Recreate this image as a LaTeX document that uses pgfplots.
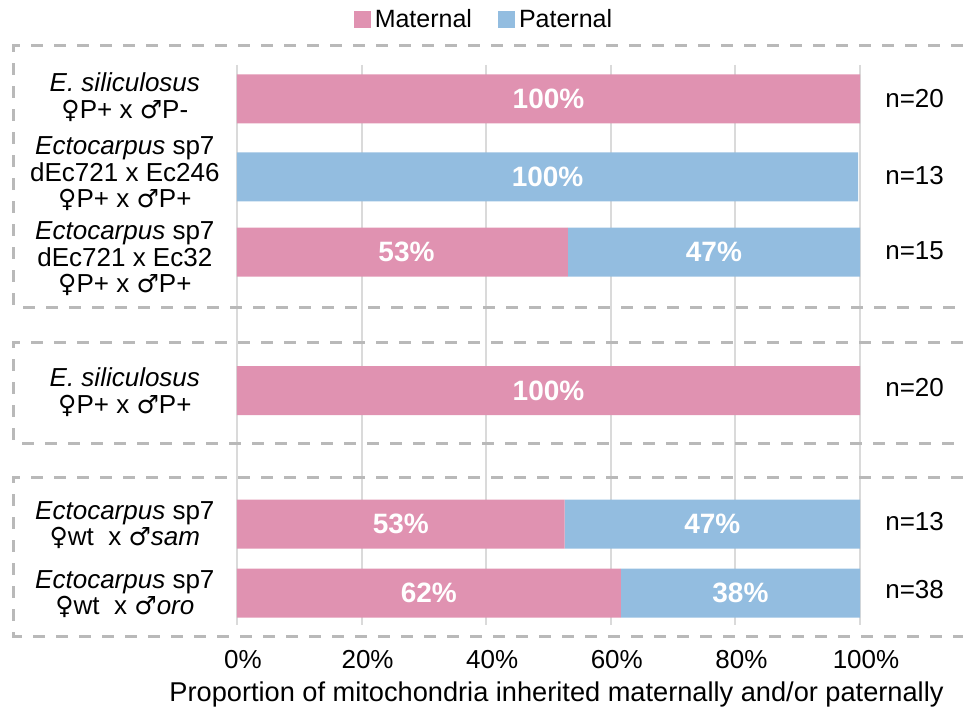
\documentclass[border=0pt]{standalone}
\usepackage{pgfplots}
\pgfplotsset{compat=1.18}
\usepackage{fontspec}
\setmainfont{Liberation Sans}
\newfontfamily\symf{DejaVu Sans}
\definecolor{mat}{RGB}{224,146,177}
\definecolor{pat}{RGB}{147,189,224}
\definecolor{dashg}{RGB}{185,185,185}
\definecolor{gridg}{RGB}{218,218,218}
\newcommand{\myfs}{\fontsize{13}{13.3}\selectfont}
\newcommand{\mybf}{\fontsize{14}{16}\selectfont\bfseries}
\newcommand{\fem}{{\symf\fontsize{12.5}{13}\selectfont ♀}}
\newcommand{\mal}{{\symf\fontsize{12.5}{13}\selectfont ♂}}
\begin{document}
\begin{tikzpicture}
\begin{axis}[
  scale only axis, width=311.5pt, height=280pt,
  xmin=0, xmax=100, ymin=65, ymax=625, y dir=reverse,
  axis line style={draw=none},
  major tick length=0pt,
  ytick=\empty,
  xtick={0,20,40,60,80,100},
  xticklabel={\pgfmathprintnumber{\tick}\%},
  /pgf/number format/assume math mode=true,
  xticklabel style={font=\myfs, xshift=3pt, yshift=-9pt},
  xmajorgrids, grid style={gridg, line width=1pt},
  xlabel={Proportion of mitochondria inherited maternally and/or paternally},
  xlabel style={font=\fontsize{13.6}{15}\selectfont, xshift=4pt, yshift=0pt},
  xbar stacked, bar width=49,
  clip=false,
  legend style={at={(0.398,1.080)}, anchor=center, draw=none, fill=none,
    legend columns=2, font=\fontsize{12.5}{14}\selectfont,
    /tikz/every even column/.append style={column sep=11pt}},
  legend image code/.code={\fill[#1] (0pt,-4pt) rectangle (8.5pt,4.5pt);},
]
\addplot[fill=mat, draw=none] coordinates {(100,99) (0,177) (53.1,252) (100,390.5) (52.6,524) (61.6,593)};
\addlegendentry{Maternal}
\addplot[fill=pat, draw=none] coordinates {(0,99) (99.7,177) (46.9,252) (0,390.5) (47.4,524) (38.4,593)};
\addlegendentry{Paternal}

\draw[dashg, line width=1.5pt, dash pattern=on 6pt off 5.5pt]
  (axis cs:116.5,46) -- (axis cs:-35.8,46) -- (axis cs:-35.8,307) -- (axis cs:116.5,307);
\draw[dashg, line width=1.5pt, dash pattern=on 6pt off 5.5pt]
  (axis cs:116.5,342) -- (axis cs:-35.8,342) -- (axis cs:-35.8,443) -- (axis cs:116.5,443);
\draw[dashg, line width=1.5pt, dash pattern=on 6pt off 5.5pt]
  (axis cs:116.5,477) -- (axis cs:-35.8,477) -- (axis cs:-35.8,636) -- (axis cs:116.5,636);

\coordinate (t1) at (axis cs:50,99);
\coordinate (t2) at (axis cs:49.85,177);
\coordinate (t3) at (axis cs:27.2,252);
\coordinate (t4) at (axis cs:76.55,252);
\coordinate (t5) at (axis cs:50,390.5);
\coordinate (t6) at (axis cs:26.3,524);
\coordinate (t7) at (axis cs:76.3,524);
\coordinate (t8) at (axis cs:30.8,593);
\coordinate (t9) at (axis cs:80.8,593);

\node[align=center, font=\myfs, inner sep=0pt] at (axis cs:-18,97) {\textit{E. siliculosus}\\\fem P+ x \mal P-};
\node[align=center, font=\myfs, inner sep=0pt] at (axis cs:-18,174) {\textit{Ectocarpus} sp7\\dEc721 x Ec246\\\fem P+ x \mal P+};
\node[align=center, font=\myfs, inner sep=0pt] at (axis cs:-18,259) {\textit{Ectocarpus} sp7\\dEc721 x Ec32\\\fem P+ x \mal P+};
\node[align=center, font=\myfs, inner sep=0pt] at (axis cs:-18,392) {\textit{E. siliculosus}\\\fem P+ x \mal P+};
\node[align=center, font=\myfs, inner sep=0pt] at (axis cs:-18,525) {\textit{Ectocarpus} sp7\\\fem wt~~x \mal\textit{sam}};
\node[align=center, font=\myfs, inner sep=0pt] at (axis cs:-18,594) {\textit{Ectocarpus} sp7\\\fem wt~~x \mal\textit{oro}};

\node[anchor=west, font=\myfs, inner sep=0pt] at (axis cs:104,99) {n=20};
\node[anchor=west, font=\myfs, inner sep=0pt] at (axis cs:104,176) {n=13};
\node[anchor=west, font=\myfs, inner sep=0pt] at (axis cs:104,251) {n=15};
\node[anchor=west, font=\myfs, inner sep=0pt] at (axis cs:104,388) {n=20};
\node[anchor=west, font=\myfs, inner sep=0pt] at (axis cs:104,522) {n=13};
\node[anchor=west, font=\myfs, inner sep=0pt] at (axis cs:104,590) {n=38};

\coordinate (bbA) at (axis cs:-38.04,710);
\coordinate (bbB) at (axis cs:116.53,0);
\end{axis}
\node[text=white, font=\mybf] at (t1) {100\%};
\node[text=white, font=\mybf] at (t2) {100\%};
\node[text=white, font=\mybf] at (t3) {53\%};
\node[text=white, font=\mybf] at (t4) {47\%};
\node[text=white, font=\mybf] at (t5) {100\%};
\node[text=white, font=\mybf] at (t6) {53\%};
\node[text=white, font=\mybf] at (t7) {47\%};
\node[text=white, font=\mybf] at (t8) {62\%};
\node[text=white, font=\mybf] at (t9) {38\%};
\pgfresetboundingbox
\path (bbA) rectangle (bbB);
\end{tikzpicture}
\end{document}
